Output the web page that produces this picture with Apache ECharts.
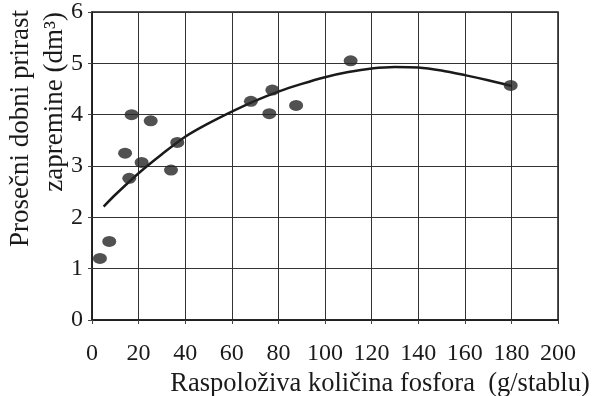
<!DOCTYPE html>
<html>
<head>
<meta charset="utf-8">
<script src="https://cdn.jsdelivr.net/npm/echarts@6/dist/echarts.min.js"></script>
<style>html,body{margin:0;padding:0;background:#fff}#c{width:593px;height:396px}</style>
</head>
<body>
<div id="c"></div>
<script>
// Observed points: phosphorus (g/stablu) and daily volume increment (dm3)
const pointX = [3.4, 7.4, 14.2, 16, 17, 21.3, 25.2, 33.9, 36.6, 68.2, 76.1, 77.4, 87.6, 111, 179.7];
const pointY = [1.2, 1.53, 3.25, 2.76, 4.0, 3.07, 3.88, 2.92, 3.46, 4.26, 4.02, 4.48, 4.18, 5.05, 4.57];
// Fitted curve
const curveX = [5, 10, 20, 30, 40, 50, 60, 70, 80, 90, 100, 110, 120, 130, 140, 150, 160, 170, 180];
const curveY = [2.21, 2.44, 2.86, 3.23, 3.57, 3.83, 4.06, 4.27, 4.45, 4.60, 4.73, 4.83, 4.90, 4.93, 4.92, 4.86, 4.77, 4.67, 4.56];
const xTicks = [0, 20, 40, 60, 80, 100, 120, 140, 160, 180, 200];
const yTicks = [0, 1, 2, 3, 4, 5, 6];

const font = 'Liberation Serif, DejaVu Serif, serif';
const chart = echarts.init(document.getElementById('c'));
chart.setOption({
  backgroundColor: '#fff',
  animation: false,
  grid: { left: 92, right: 35, top: 12, bottom: 76, show: true, borderColor: '#1a1a1a', borderWidth: 1.5,
          containLabel: false, outerBoundsMode: 'none' },
  xAxis: {
    type: 'value', min: xTicks[0], max: xTicks[xTicks.length - 1], interval: 20,
    name: 'Raspoloživa količina fosfora  (g/stablu)',
    nameLocation: 'middle', nameGap: 50,
    nameTextStyle: { fontFamily: font, fontSize: 26.5, color: '#1a1a1a', padding: [0, 0, 0, 110] },
    axisLine: { show: true, lineStyle: { color: '#1a1a1a', width: 1.5 } },
    axisTick: { show: true, length: 4, lineStyle: { color: '#444' } },
    axisLabel: { fontFamily: font, fontSize: 24, color: '#1a1a1a', margin: 22 },
    splitLine: { show: true, lineStyle: { color: '#333', width: 1 } }
  },
  yAxis: {
    type: 'value', min: yTicks[0], max: yTicks[yTicks.length - 1], interval: 1,
    axisLine: { show: true, lineStyle: { color: '#1a1a1a', width: 1.5 } },
    axisTick: { show: true, length: 4, lineStyle: { color: '#444' } },
    axisLabel: { fontFamily: font, fontSize: 24, color: '#1a1a1a', margin: 9 },
    splitLine: { show: true, lineStyle: { color: '#333', width: 1 } }
  },
  graphic: [
    { type: 'text', x: 21, y: 10, rotation: Math.PI / 2,
      style: { text: 'Prosečni dobni prirast', font: '27px ' + font, fill: '#1a1a1a', align: 'right', verticalAlign: 'middle' } },
    { type: 'text', x: 55, y: 12, rotation: Math.PI / 2,
      style: { text: 'zapremine (dm³)', font: '27px ' + font, fill: '#1a1a1a', align: 'right', verticalAlign: 'middle' } }
  ],
  series: [
    { type: 'line', data: curveX.map((x, i) => [x, curveY[i]]), smooth: 0.3, showSymbol: false,
      lineStyle: { color: '#1a1a1a', width: 2.5 }, z: 3 },
    { type: 'scatter', data: pointX.map((x, i) => [x, pointY[i]]), symbol: 'circle', symbolSize: [14, 11],
      itemStyle: { color: '#262626' }, z: 4 }
  ]
});
</script>
</body>
</html>
